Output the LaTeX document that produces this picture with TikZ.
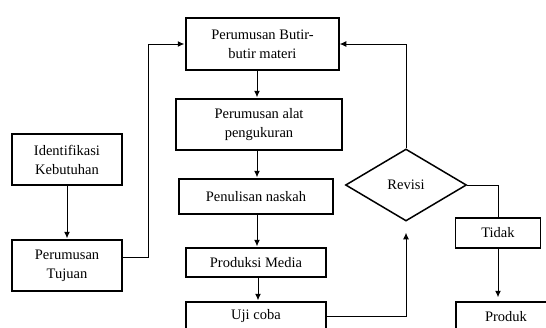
\documentclass[tikz,border=0pt]{standalone}
\usepackage{fontspec}
\setmainfont{Liberation Serif}
\usepackage{tikz}
\usetikzlibrary{arrows.meta}
\usetikzlibrary{shapes.geometric}

\begin{document}
\begin{tikzpicture}[
		x=1pt,
		y=-1pt,
		line width=1.5pt,
		font=\fontsize{14.5}{19}\selectfont
	]
	  	\tikzstyle{kotak}=[
	  		rectangle,
	  		draw,
	  		align=center,
	  		inner sep=0pt
	  	]
	  	\tikzstyle{keputusan}=[
	  		diamond,
	  		draw,
	  		aspect=1.68,
	  		inner sep=0pt,
	  		minimum width=121pt,
	  		minimum height=72pt
	  	]
	  	\tikzstyle{panah}=[
	  		-{Latex[length=6.5pt,width=6pt]},
	  		line width=1pt,
	  		shorten >=1pt
	  	]
	  	
	  	\useasboundingbox (0,0) rectangle (546,327);
	  	\coordinate (tengah) at (257,0);
	  	
	  	\node[kotak, minimum width=110pt, minimum height=51pt] (identifikasi) at (67,159.5) {Identifikasi\\Kebutuhan};
	  	\node[kotak, minimum width=110pt, minimum height=51pt] (tujuan) at (67,265.5) {Perumusan\\Tujuan};
	  	\node[kotak, minimum width=153pt, minimum height=52pt] (butir) at (262.5,44) {Perumusan Butir-\\butir materi};
	  	\node[kotak, minimum width=166pt, minimum height=51pt] (alat) at (259,124.5) {Perumusan alat\\pengukuran};
	  	\node[kotak, minimum width=154pt, minimum height=35pt] (naskah) at (256,196.5) {Penulisan naskah};
	  	\node[kotak, minimum width=140pt, minimum height=29pt] (media) at (256,262.5) {Produksi Media};
	  	\node[kotak, minimum width=140pt, minimum height=29pt] (ujicoba) at (256,316.5) {Uji coba};
	  	\node[keputusan] (revisi) at (406,185) {Revisi};
	  	\node[kotak, minimum width=85pt, minimum height=30pt] (tidak) at (498,233) {Tidak};
	  	\node[kotak, minimum width=100pt, minimum height=30pt] (produk) at (506,317) {Produk};
	  	
	  	\draw[panah] (identifikasi) -- (tujuan);
	  	\draw[panah] ([yshift=8.5pt]tujuan.east) -- ++(26,0) |- (butir.west);
	  	\draw[panah] (butir.south -| tengah) -- (alat.north -| tengah);
	  	\draw[panah] (alat.south -| tengah) -- (naskah.north -| tengah);
	  	\draw[panah] (naskah.south -| tengah) -- (media.north -| tengah);
	  	\draw[panah] ([xshift=2pt]media.south) -- ([xshift=2pt]ujicoba.north);
	  	\draw[panah, shorten >=11pt] (ujicoba.east) -| (revisi.south);
	  	\draw[panah, shorten >=0pt] (revisi.north) |- (butir.east);
	  	\draw[line width=1pt] (revisi.east) -| (tidak.north);
	  	\draw[panah, shorten >=4pt] (tidak.south) -- (tidak.south |- produk.north);
	\end{tikzpicture}
\end{document}
